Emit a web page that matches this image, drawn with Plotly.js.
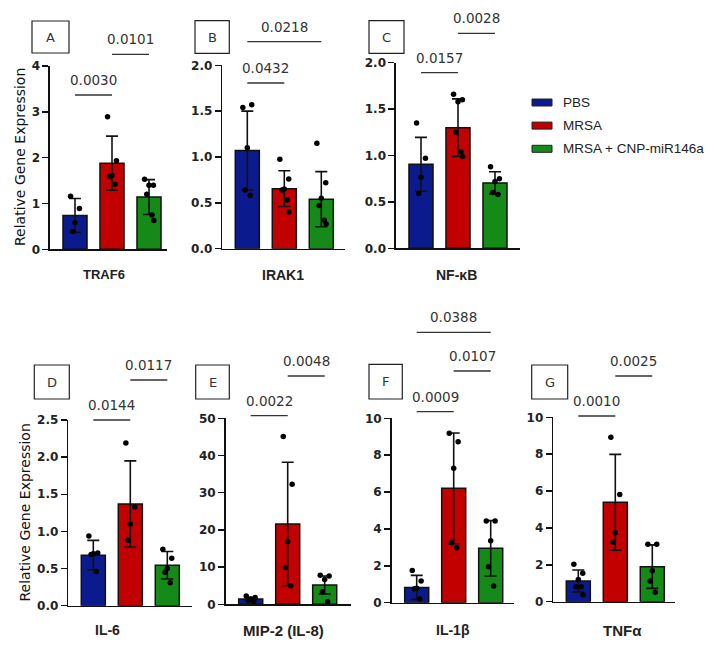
<!DOCTYPE html>
<html>
<head>
<meta charset="utf-8">
<script src="https://cdn.plot.ly/plotly-3.0.1.min.js"></script>
<style>html,body{margin:0;padding:0;background:#fff;}#chart{width:714px;height:645px;}</style>
</head>
<body>
<div id="chart"></div>
<script>
// ---------------- DATA ----------------
const groups = ['PBS', 'MRSA', 'MRSA + CNP-miR146a'];
const groupColors = ['#0b1a8c', '#c20000', '#168a18'];
const genes = ['TRAF6', 'IRAK1', 'NF-κB', 'IL-6', 'MIP-2 (IL-8)', 'IL-1β', 'TNFα'];
const panelLetters = ['A', 'B', 'C', 'D', 'E', 'F', 'G'];

const traf6Mean = [0.74, 1.88, 1.14];
const traf6Sd = [0.37, 0.59, 0.38];
const traf6Pts = [[1.16, 0.89, 0.58, 0.39], [2.89, 1.93, 1.61, 1.59, 1.42], [1.53, 1.40, 1.40, 1.20, 0.75, 0.63]];
const traf6P = ['0.0030', '0.0101'];
const traf6Pairs = [[0, 1], [1, 2]];

const irak1Mean = [1.07, 0.655, 0.54];
const irak1Sd = [0.43, 0.195, 0.30];
const irak1Pts = [[1.54, 1.57, 1.10, 0.64, 0.58], [0.975, 0.76, 0.65, 0.64, 0.53, 0.40], [1.15, 0.72, 0.55, 0.47, 0.31, 0.27]];
const irak1P = ['0.0432', '0.0218'];
const irak1Pairs = [[0, 1], [0, 2]];

const nfkbMean = [0.905, 1.30, 0.705];
const nfkbSd = [0.29, 0.31, 0.12];
const nfkbPts = [[1.35, 0.97, 0.765, 0.59], [1.66, 1.60, 1.58, 1.25, 1.04, 0.99], [0.88, 0.75, 0.72, 0.60, 0.58]];
const nfkbP = ['0.0157', '0.0028'];
const nfkbPairs = [[0, 1], [1, 2]];

const il6Mean = [0.68, 1.37, 0.545];
const il6Sd = [0.20, 0.58, 0.185];
const il6Pts = [[0.94, 0.71, 0.70, 0.69, 0.46], [2.19, 1.33, 1.10, 0.88], [0.76, 0.64, 0.50, 0.45, 0.31]];
const il6P = ['0.0144', '0.0117'];
const il6Pairs = [[0, 1], [1, 2]];

const mip2Mean = [1.4, 21.6, 5.2];
const mip2Sd = [0.45, 16.6, 2.4];
const mip2Pts = [[2.2, 1.8, 1.4, 1.0, 0.8], [45.1, 32.3, 16.9, 9.9, 5.0], [7.8, 7.6, 6.7, 3.4, 0.7]];
const mip2P = ['0.0022', '0.0048'];
const mip2Pairs = [[0, 1], [1, 2]];

const il1bMean = [0.83, 6.2, 2.95];
const il1bSd = [0.65, 3.0, 1.5];
const il1bPts = [[1.74, 1.18, 0.78, 0.75, 0.2], [9.19, 8.73, 7.29, 3.25, 2.98], [4.43, 4.43, 3.36, 1.95, 0.9]];
const il1bP = ['0.0009', '0.0107', '0.0388'];
const il1bPairs = [[0, 1], [1, 2], [0, 2]];

const tnfMean = [1.12, 5.39, 1.90];
const tnfSd = [0.60, 2.60, 1.18];
const tnfPts = [[2.03, 1.54, 1.21, 0.81, 0.81, 0.36], [8.92, 5.82, 3.74, 3.22], [3.11, 3.11, 1.68, 1.12, 0.51]];
const tnfP = ['0.0010', '0.0025'];
const tnfPairs = [[0, 1], [1, 2]];

const yMax = [4, 2, 2, 2.5, 50, 10, 10];
const yStep = [1, 0.5, 0.5, 0.5, 10, 2, 2];
const yFormat = ['', '.1f', '.1f', '.1f', '', '', ''];

// ---------------- LAYOUT GEOMETRY (pixels) ----------------
const W = 714, H = 645;
const geo = [
  {x0: 50, x1: 167, yb: 249.3, yt: 66, br: [95, 54.3], box: [32, 21, 69, 53], lab: [104, 274, 13]},
  {x0: 222.3, x1: 345, yb: 248.7, yt: 65.3, br: [83, 41.7], box: [195, 20.7, 229.3, 53.3], lab: [283, 275, 14]},
  {x0: 396, x1: 520, yb: 248.3, yt: 62.7, br: [72.7, 33.3], box: [369, 20.7, 404, 53.3], lab: [457, 275, 14]},
  {x0: 68.3, x1: 191.7, yb: 605.7, yt: 420, br: [420, 380], box: [34.3, 365, 69.3, 399], lab: [108, 630, 14]},
  {x0: 225.7, x1: 350.7, yb: 604.3, yt: 418.3, br: [415.7, 376], box: [195.7, 365, 229.3, 399], lab: [283, 630, 15]},
  {x0: 391.7, x1: 514, yb: 602.7, yt: 418.3, br: [411.7, 371, 332.3], box: [369, 364.3, 402.3, 399], lab: [453, 630, 14]},
  {x0: 553.3, x1: 675, yb: 601.7, yt: 417.3, br: [416, 376], box: [531.7, 365, 567.7, 399], lab: [622, 630, 15]}
];
const STEP = 37, OFF = 25;

const means = [traf6Mean, irak1Mean, nfkbMean, il6Mean, mip2Mean, il1bMean, tnfMean];
const sds = [traf6Sd, irak1Sd, nfkbSd, il6Sd, mip2Sd, il1bSd, tnfSd];
const pts = [traf6Pts, irak1Pts, nfkbPts, il6Pts, mip2Pts, il1bPts, tnfPts];
const pvals = [traf6P, irak1P, nfkbP, il6P, mip2P, il1bP, tnfP];
const pairs = [traf6Pairs, irak1Pairs, nfkbPairs, il6Pairs, mip2Pairs, il1bPairs, tnfPairs];

const jitter = [-0.12, 0.12, 0.0, -0.06, 0.08, 0.13, -0.13];

const px = v => v / W;
const py = v => 1 - v / H;

const traces = [];
const layout = {
  width: W, height: H,
  margin: {l: 0, r: 0, t: 0, b: 0},
  paper_bgcolor: '#ffffff', plot_bgcolor: 'rgba(0,0,0,0)',
  showlegend: false,
  shapes: [], annotations: [],
  font: {family: 'DejaVu Sans', color: '#222'}
};

geo.forEach((g, i) => {
  const n = i === 0 ? '' : String(i + 1);
  const r0 = -OFF / STEP;
  const r1 = r0 + (g.x1 - g.x0) / STEP;
  layout['xaxis' + n] = {
    domain: [px(g.x0), px(g.x1)], range: [r0, r1], anchor: 'y' + n,
    showline: true, linecolor: '#111', linewidth: 1.6, ticks: '', showticklabels: false,
    showgrid: false, zeroline: false, fixedrange: true
  };
  layout['yaxis' + n] = {
    domain: [py(g.yb), py(g.yt)], range: [0, yMax[i]], anchor: 'x' + n,
    showline: true, linecolor: '#111', linewidth: 1.6,
    ticks: 'outside', ticklen: 6, tickwidth: 1.5, tickcolor: '#111',
    tick0: 0, dtick: yStep[i], tickformat: yFormat[i],
    tickfont: {family: 'DejaVu Sans', size: 12, color: '#222', weight: 'bold'},
    showgrid: false, zeroline: false, fixedrange: true
  };
  traces.push({
    type: 'bar', x: [0, 1, 2], y: means[i], xaxis: 'x' + n, yaxis: 'y' + n,
    width: 0.65, name: genes[i],
    marker: {color: groupColors, line: {color: '#111', width: 1.5}},
    error_y: {type: 'data', array: sds[i], visible: true, color: '#111', thickness: 1.6, width: 6},
    hoverinfo: 'skip'
  });
  const xs = [], ys = [];
  pts[i].forEach((arr, gi) => {
    arr.forEach((v, k) => { xs.push(gi + jitter[k % jitter.length]); ys.push(v); });
  });
  traces.push({
    type: 'scatter', mode: 'markers', x: xs, y: ys, xaxis: 'x' + n, yaxis: 'y' + n,
    marker: {color: '#000', size: 5.5}, cliponaxis: false, hoverinfo: 'skip'
  });

  const catX = c => px(g.x0 + OFF + c * STEP);
  pairs[i].forEach((pr, k) => {
    const yl = g.br[k];
    layout.shapes.push({type: 'line', xref: 'paper', yref: 'paper',
      x0: catX(pr[0]), x1: catX(pr[1]), y0: py(yl), y1: py(yl),
      line: {color: '#333', width: 1.3}});
    layout.annotations.push({xref: 'paper', yref: 'paper', showarrow: false,
      x: (catX(pr[0]) + catX(pr[1])) / 2, y: py(yl - 15), xanchor: 'center', yanchor: 'middle',
      text: pvals[i][k], font: {family: 'DejaVu Sans', size: 13.5, color: '#333'}});
  });
  const b = g.box;
  layout.shapes.push({type: 'rect', xref: 'paper', yref: 'paper',
    x0: px(b[0]), x1: px(b[2]), y0: py(b[3]), y1: py(b[1]),
    line: {color: '#222', width: 1.2}, fillcolor: 'rgba(0,0,0,0)'});
  layout.annotations.push({xref: 'paper', yref: 'paper', showarrow: false,
    x: px((b[0] + b[2]) / 2), y: py((b[1] + b[3]) / 2), xanchor: 'center', yanchor: 'middle',
    text: panelLetters[i], font: {family: 'DejaVu Sans', size: 13, color: '#333'}});
  layout.annotations.push({xref: 'paper', yref: 'paper', showarrow: false,
    x: px(g.lab[0]), y: py(g.lab[1]), xanchor: 'center', yanchor: 'middle',
    text: genes[i], font: {family: 'Liberation Sans', size: g.lab[2], color: '#222', weight: 'bold'}});
});

[[19.5, 157.5], [24, 512.5]].forEach(p => {
  layout.annotations.push({xref: 'paper', yref: 'paper', showarrow: false,
    x: px(p[0]), y: py(p[1]), xanchor: 'center', yanchor: 'middle', textangle: -90,
    text: 'Relative Gene Expression', font: {family: 'DejaVu Sans', size: 14, color: '#111'}});
});

const legY = [102.5, 125.6, 148.8];
groups.forEach((gname, k) => {
  layout.shapes.push({type: 'rect', xref: 'paper', yref: 'paper',
    x0: px(532), x1: px(552), y0: py(legY[k] + 3.5), y1: py(legY[k] - 3.5),
    line: {color: '#222', width: 1}, fillcolor: groupColors[k]});
  layout.annotations.push({xref: 'paper', yref: 'paper', showarrow: false,
    x: px(561), y: py(legY[k]), xanchor: 'left', yanchor: 'middle',
    text: gname, font: {family: 'Liberation Sans', size: 13.5, color: '#222'}});
});

Plotly.newPlot('chart', traces, layout, {staticPlot: true, displayModeBar: false});
</script>
</body>
</html>
